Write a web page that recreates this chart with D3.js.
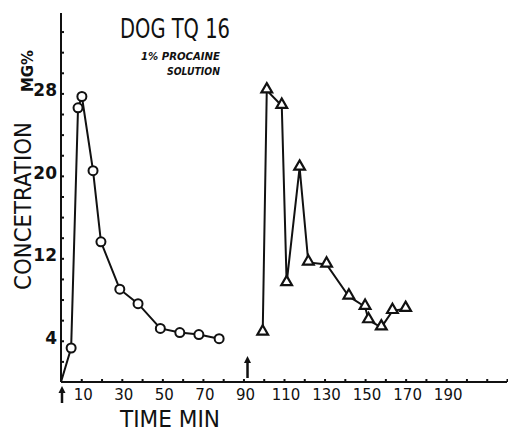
<!DOCTYPE html>
<html lang="en">
  <head>
    <meta charset="utf-8">
    <title>Dog TQ 16</title>
    <script src="https://cdn.jsdelivr.net/npm/d3@7"></script>
    <style>
      body { margin: 0; background: #fff; }
      .hand { font-family: "DejaVu Sans", sans-serif; fill: #111; }
      .axis path, .axis line { stroke: #111; stroke-width: 2; }
      .axis text { font-family: "DejaVu Sans", sans-serif; fill: #111; }
    </style>
  </head>
  <body>
    <script>
      // first dose (circles)
      var timeA = [0, 5, 8.4, 10.3, 15.8, 19.7, 29, 38, 49, 58.6, 68, 78];
      var concA = [0, 3.3, 26.6, 27.7, 20.5, 13.6, 9.0, 7.6, 5.2, 4.8, 4.6, 4.2];
      // second dose (triangles)
      var timeB = [99.5, 101.5, 108.9, 111.3, 117.7, 122, 131, 142, 150, 151.7, 158, 163.5, 170];
      var concB = [4.8, 28.3, 26.8, 9.6, 20.8, 11.6, 11.4, 8.3, 7.3, 6.0, 5.3, 6.9, 7.1];
      var doseTimes = [0, 92];
      var xLabels = [10, 30, 50, 70, 90, 110, 130, 150, 170, 190];
      var yLabels = [4, 12, 20, 28];

      var width = 508, height = 433;
      var svg = d3.select("body").append("svg")
        .attr("width", width).attr("height", height);

      var x = d3.scaleLinear().domain([0, 220]).range([61, 507]);
      var y = d3.scaleLinear().domain([0, 35.8]).range([382, 13]);

      var xAxis = d3.axisTop(x)
        .tickValues(d3.range(10, 221, 10))
        .tickSize(3)
        .tickFormat("");
      svg.append("g").attr("class", "axis")
        .attr("transform", "translate(0," + y(0) + ")")
        .call(xAxis)
        .select(".domain").attr("d", "M" + x(0) + ",0H" + x(220));

      svg.selectAll(".xlab").data(xLabels).enter().append("text")
        .attr("class", "hand")
        .attr("x", function(d) { return x(d) + 2; })
        .attr("y", 400)
        .attr("text-anchor", "middle")
        .attr("font-size", 15)
        .text(function(d) { return d; });

      var yAxis = d3.axisRight(y)
        .tickValues(d3.range(2, 35, 2))
        .tickSize(3)
        .tickFormat("");
      svg.append("g").attr("class", "axis")
        .attr("transform", "translate(" + x(0) + ",0)")
        .call(yAxis)
        .select(".domain").attr("d", "M0," + y(35.8) + "V" + y(0));

      svg.selectAll(".ylab").data(yLabels).enter().append("text")
        .attr("class", "hand")
        .attr("x", 57)
        .attr("y", function(d) { return y(d) + 3; })
        .attr("text-anchor", "end")
        .attr("font-size", 17)
        .attr("font-weight", "bold")
        .text(function(d) { return d; });

      var line = d3.line()
        .x(function(d) { return x(d[0]); })
        .y(function(d) { return y(d[1]); });

      var ptsA = d3.zip(timeA, concA);
      var ptsB = d3.zip(timeB, concB);

      svg.append("path").datum(ptsA)
        .attr("d", line).attr("fill", "none")
        .attr("stroke", "#111").attr("stroke-width", 2);
      svg.append("path").datum(ptsB)
        .attr("d", line).attr("fill", "none")
        .attr("stroke", "#111").attr("stroke-width", 2);

      svg.selectAll(".circ").data(ptsA.slice(1)).enter().append("circle")
        .attr("cx", function(d) { return x(d[0]); })
        .attr("cy", function(d) { return y(d[1]); })
        .attr("r", 4.5)
        .attr("fill", "#fff").attr("stroke", "#111").attr("stroke-width", 2);

      var tri = d3.symbol().type(d3.symbolTriangle).size(50);
      svg.selectAll(".tri").data(ptsB).enter().append("path")
        .attr("d", tri)
        .attr("transform", function(d) { return "translate(" + x(d[0]) + "," + (y(d[1]) - 1) + ")"; })
        .attr("fill", "#fff").attr("stroke", "#111").attr("stroke-width", 2.2);

      // dose arrows
      var arrowY = [[403, 386], [378, 356]];
      doseTimes.forEach(function(t, i) {
        var ax = x(t) + (i == 0 ? 1 : 0), y0 = arrowY[i][0], y1 = arrowY[i][1];
        svg.append("line").attr("x1", ax).attr("x2", ax)
          .attr("y1", y0).attr("y2", y1 + 5)
          .attr("stroke", "#111").attr("stroke-width", 2.5);
        svg.append("path")
          .attr("d", "M" + (ax - 3.5) + "," + (y1 + 7) + "L" + ax + "," + y1 + "L" + (ax + 3.5) + "," + (y1 + 7) + "Z")
          .attr("fill", "#111");
      });

      // titles
      svg.append("text").attr("class", "hand")
        .attr("x", 120).attr("y", 38)
        .attr("font-size", 27)
        .attr("textLength", 110).attr("lengthAdjust", "spacingAndGlyphs")
        .text("DOG  TQ 16");
      svg.append("text").attr("class", "hand")
        .attr("x", 141).attr("y", 60)
        .attr("font-size", 11).attr("font-weight", "bold").attr("font-style", "italic")
        .attr("textLength", 79).attr("lengthAdjust", "spacingAndGlyphs")
        .text("1% PROCAINE");
      svg.append("text").attr("class", "hand")
        .attr("x", 167).attr("y", 75)
        .attr("font-size", 11).attr("font-weight", "bold").attr("font-style", "italic")
        .attr("textLength", 53).attr("lengthAdjust", "spacingAndGlyphs")
        .text("SOLUTION");

      svg.append("text").attr("class", "hand")
        .attr("transform", "translate(31,290) rotate(-90)")
        .attr("font-size", 23)
        .attr("textLength", 168).attr("lengthAdjust", "spacingAndGlyphs")
        .text("CONCETRATION");
      svg.append("text").attr("class", "hand")
        .attr("transform", "translate(33,92) rotate(-90)")
        .attr("font-size", 15).attr("font-weight", "bold")
        .attr("textLength", 42).attr("lengthAdjust", "spacingAndGlyphs")
        .text("MG%");

      svg.append("text").attr("class", "hand")
        .attr("x", 120).attr("y", 427)
        .attr("font-size", 23)
        .attr("textLength", 100).attr("lengthAdjust", "spacingAndGlyphs")
        .text("TIME  MIN");
    </script>
  </body>
</html>
